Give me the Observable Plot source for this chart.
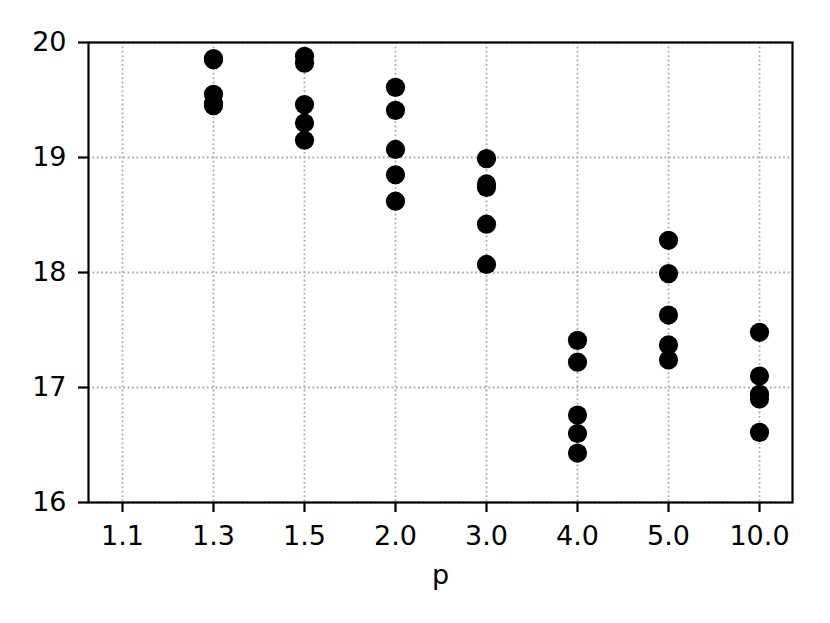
<!DOCTYPE html>
<html>
<head>
<meta charset="utf-8">
<script src="https://cdn.jsdelivr.net/npm/d3@7"></script>
<script src="https://cdn.jsdelivr.net/npm/@observablehq/plot@0.6"></script>
<style>
  html, body { margin: 0; padding: 0; background: #fff; }
  #chart svg { font-family: "DejaVu Sans", sans-serif; }
</style>
</head>
<body>
<div id="chart"></div>
<script>
const pLabels = ["1.1", "1.3", "1.5", "2.0", "3.0", "4.0", "5.0", "10.0"];
const values_1_3 = [19.86, 19.85, 19.55, 19.47, 19.45];
const values_1_5 = [19.88, 19.82, 19.46, 19.30, 19.15];
const values_2_0 = [19.61, 19.41, 19.07, 18.85, 18.62];
const values_3_0 = [18.99, 18.77, 18.74, 18.42, 18.07];
const values_4_0 = [17.41, 17.22, 16.76, 16.60, 16.43];
const values_5_0 = [18.28, 17.99, 17.63, 17.37, 17.24];
const values_10_0 = [17.48, 17.10, 16.94, 16.90, 16.61];
const yTicks = [16, 17, 18, 19, 20];

const groups = [
  ["1.3", values_1_3], ["1.5", values_1_5], ["2.0", values_2_0],
  ["3.0", values_3_0], ["4.0", values_4_0], ["5.0", values_5_0], ["10.0", values_10_0]
];
const data = groups.flatMap(([p, vs]) => vs.map(v => ({p, v})));

const FS = 27;
const gridStyle = {stroke: "#aaaaaa", strokeOpacity: 1, strokeWidth: 1.8, strokeDasharray: "1.8,2.6"};

const chart = Plot.plot({
  width: 830,
  height: 623,
  marginLeft: 88,
  marginRight: 38,
  marginTop: 42,
  marginBottom: 121,
  style: {fontFamily: "DejaVu Sans, sans-serif", fontSize: FS + "px", background: "#fff", color: "#000"},
  x: {type: "point", domain: pLabels, padding: 0.36},
  y: {domain: [16, 20]},
  marks: [
    Plot.gridX(pLabels, gridStyle),
    Plot.gridY(yTicks, gridStyle),
    Plot.dot(data, {x: "p", y: "v", r: 9.6, fill: "#000", stroke: "none"}),
    Plot.frame({stroke: "#000", strokeWidth: 2.2}),
    Plot.axisX(pLabels, {tickSize: 10, tickPadding: 13, strokeWidth: 2.2, fontSize: FS, label: null}),
    Plot.axisY(yTicks, {tickSize: 10, tickPadding: 12, strokeWidth: 2.2, fontSize: FS, label: null, tickFormat: d3.format("d")}),
    Plot.text(["p"], {frameAnchor: "bottom", dy: 73, lineAnchor: "middle", fontSize: FS, fill: "#000"})
  ]
});
d3.select(chart).selectAll("text").attr("font-size", FS).style("font-size", FS + "px").style("font-family", "DejaVu Sans, sans-serif");
d3.select(chart).selectAll("g[aria-label$='tick label']").attr("font-size", FS).style("font-size", FS + "px");
document.getElementById("chart").appendChild(chart);
</script>
</body>
</html>
